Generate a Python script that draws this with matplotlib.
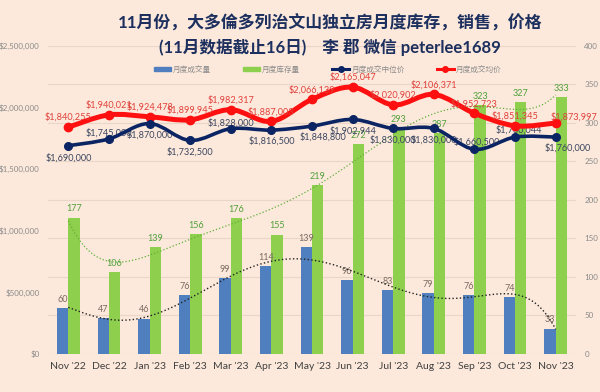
import numpy as np
import matplotlib
matplotlib.use("Agg")
import matplotlib.pyplot as plt
from matplotlib.path import Path
from matplotlib.patches import PathPatch, Patch
from matplotlib.lines import Line2D
from matplotlib.ticker import FuncFormatter

plt.rcParams['font.family'] = ['Lato', 'Noto Sans CJK SC', 'DejaVu Sans']

months = ["Nov '22", "Dec '22", "Jan '23", "Feb '23", "Mar '23", "Apr '23", "May '23",
          "Jun '23", "Jul '23", "Aug '23", "Sep '23", "Oct '23", "Nov '23"]
sales = [60, 47, 46, 76, 99, 114, 139, 96, 83, 79, 76, 74, 33]
inventory = [177, 106, 139, 156, 176, 155, 219, 272, 293, 287, 323, 327, 333]
median_price = [1690000, 1745000, 1870000, 1732500, 1828000, 1816500, 1848800,
                1902944, 1830000, 1830000, 1660500, 1760044, 1760000]
avg_price = [1840255, 1940021, 1924478, 1899945, 1982317, 1887003, 2066139,
             2165047, 2020902, 2106371, 1952723, 1851345, 1873997]

# label offsets in points (dx, dy)
median_off = [(0, -9), (0, 4), (0, -8), (0, -8), (0, 4), (0, -8), (8, -8),
              (0, -8), (0, -8), (0, -8), (2, 5), (3, 5), (9, -8)]
avg_off = [(0, 7), (0, 7), (0, 7), (0, 7), (0, 7), (0, 7), (0, 7),
           (0, 7), (0, 7), (0, 7), (0, 7), (0, 7), (13, 4)]

bg = '#FCE9DB'
blue = '#4F7FBF'
green = '#8FCF4E'
navy = '#0B2463'
red = '#FF1010'

x = np.arange(len(months))


def smooth_path(xs, ys):
    # catmull-rom style bezier, like excel's smoothed line
    xs = np.asarray(xs, float)
    ys = np.asarray(ys, float)
    verts = [(xs[0], ys[0])]
    codes = [Path.MOVETO]
    n = len(xs)
    for i in range(n - 1):
        p0 = (xs[max(i - 1, 0)], ys[max(i - 1, 0)])
        p1 = (xs[i], ys[i])
        p2 = (xs[i + 1], ys[i + 1])
        p3 = (xs[min(i + 2, n - 1)], ys[min(i + 2, n - 1)])
        c1 = (p1[0] + (p2[0] - p0[0]) / 6, p1[1] + (p2[1] - p0[1]) / 6)
        c2 = (p2[0] - (p3[0] - p1[0]) / 6, p2[1] - (p3[1] - p1[1]) / 6)
        verts += [c1, c2, p2]
        codes += [Path.CURVE4] * 3
    return Path(verts, codes)


fig = plt.figure(figsize=(6, 3.92), dpi=100, facecolor=bg)
ax = fig.add_axes([0.08, 0.097, 0.88, 0.786])
ax.set_facecolor(bg)
ax2 = ax.twinx()

# counts on ax (right side ticks), prices on ax2 (left side ticks)
ax.yaxis.tick_right()
ax2.yaxis.tick_left()

w = 0.28
ax.bar(x - w / 2, sales, w, color=blue, zorder=2)
ax.bar(x + w / 2, inventory, w, color=green, zorder=2)
for xi, v in zip(x, sales):
    ax.annotate(str(v), (xi - w / 2, v), xytext=(0, 3), textcoords='offset points',
                ha='center', va='bottom', fontsize=6.5, color='#7A6A60', zorder=3)
for xi, v in zip(x, inventory):
    ax.annotate(str(v), (xi + w / 2, v), xytext=(0, 3), textcoords='offset points',
                ha='center', va='bottom', fontsize=6.5, color='#4FA03A', zorder=3)

# polynomial trendlines
xf = np.linspace(0, len(x) - 1, 300)
ax.plot(xf, np.polyval(np.polyfit(x, inventory, 6), xf), ls=':', lw=0.9,
        color='#5FAF3A', zorder=3)
ax.plot(xf, np.polyval(np.polyfit(x, sales, 6), xf), ls=':', lw=1.0,
        color='#222222', zorder=3)

ax.set_xlim(-0.5, len(x) - 0.5)
ax.set_ylim(0, 400)
ax.set_yticks(range(0, 401, 50))
ax.grid(axis='y', color='#E9D6C8', lw=0.8, zorder=0)
ax.set_axisbelow(True)

ax2.set_ylim(0, 2500000)
ax2.set_yticks(range(0, 2500001, 500000))
ax2.yaxis.set_major_formatter(FuncFormatter(lambda v, p: '${:,.0f}'.format(v)))

ax2.add_patch(PathPatch(smooth_path(x, avg_price), fill=False, ec=red, lw=3.6,
                        capstyle='round', joinstyle='round', zorder=4))
ax2.plot(x, avg_price, 'o', color=red, ms=6, zorder=5)
ax2.add_patch(PathPatch(smooth_path(x, median_price), fill=False, ec=navy, lw=2.6,
                        capstyle='round', joinstyle='round', zorder=4))
ax2.plot(x, median_price, 'o', color=navy, ms=5.5, zorder=5)

for xi, v, o in zip(x, avg_price, avg_off):
    ax2.annotate('${:,}'.format(v), (xi, v), xytext=o, textcoords='offset points',
                 ha='center', va='center', fontsize=6.6, color='#E0403A', zorder=6)
for xi, v, o in zip(x, median_price, median_off):
    ax2.annotate('${:,}'.format(v), (xi, v), xytext=o, textcoords='offset points',
                 ha='center', va='center', fontsize=6.6, color='#3A4560', zorder=3)

for a in (ax, ax2):
    for s in a.spines.values():
        s.set_visible(False)
ax.tick_params(axis='y', length=0, labelsize=5.8, labelcolor='#8A8A8A', pad=6)
ax2.tick_params(axis='y', length=0, labelsize=5.8, labelcolor='#8A8A8A', pad=6)
ax.set_xticks(x)
ax.set_xticklabels(months)
ax.tick_params(axis='x', length=0, labelsize=7.5, labelcolor='#404040', pad=6)

handles = [Patch(color=blue), Patch(color=green),
           Line2D([], [], color=navy, lw=2.2, marker='o', ms=4),
           Line2D([], [], color=red, lw=2.2, marker='o', ms=4)]
labels = ['月度成交量', '月度库存量', '月度成交中位价', '月度成交均价']
leg = ax2.legend(handles, labels, loc='center', bbox_to_anchor=(0.53, 0.925), ncol=4,
                 frameon=False, fontsize=5.5, handlelength=2.2, handleheight=0.5,
                 columnspacing=4.2, handletextpad=0.3)
for t in leg.get_texts():
    t.set_color('#8A8A8A')

fig.text(0.55, 0.944, '11月份，大多倫多列治文山独立房月度库存，销售，价格',
         ha='center', va='center', fontsize=12.2, fontweight='bold', color='#1C2F5E')
fig.text(0.55, 0.88, '(11月数据截止16日)    李 郡 微信 peterlee1689',
         ha='center', va='center', fontsize=12.0, fontweight='bold', color='#1C2F5E')

fig.savefig('out.png', dpi=100, facecolor=bg)
